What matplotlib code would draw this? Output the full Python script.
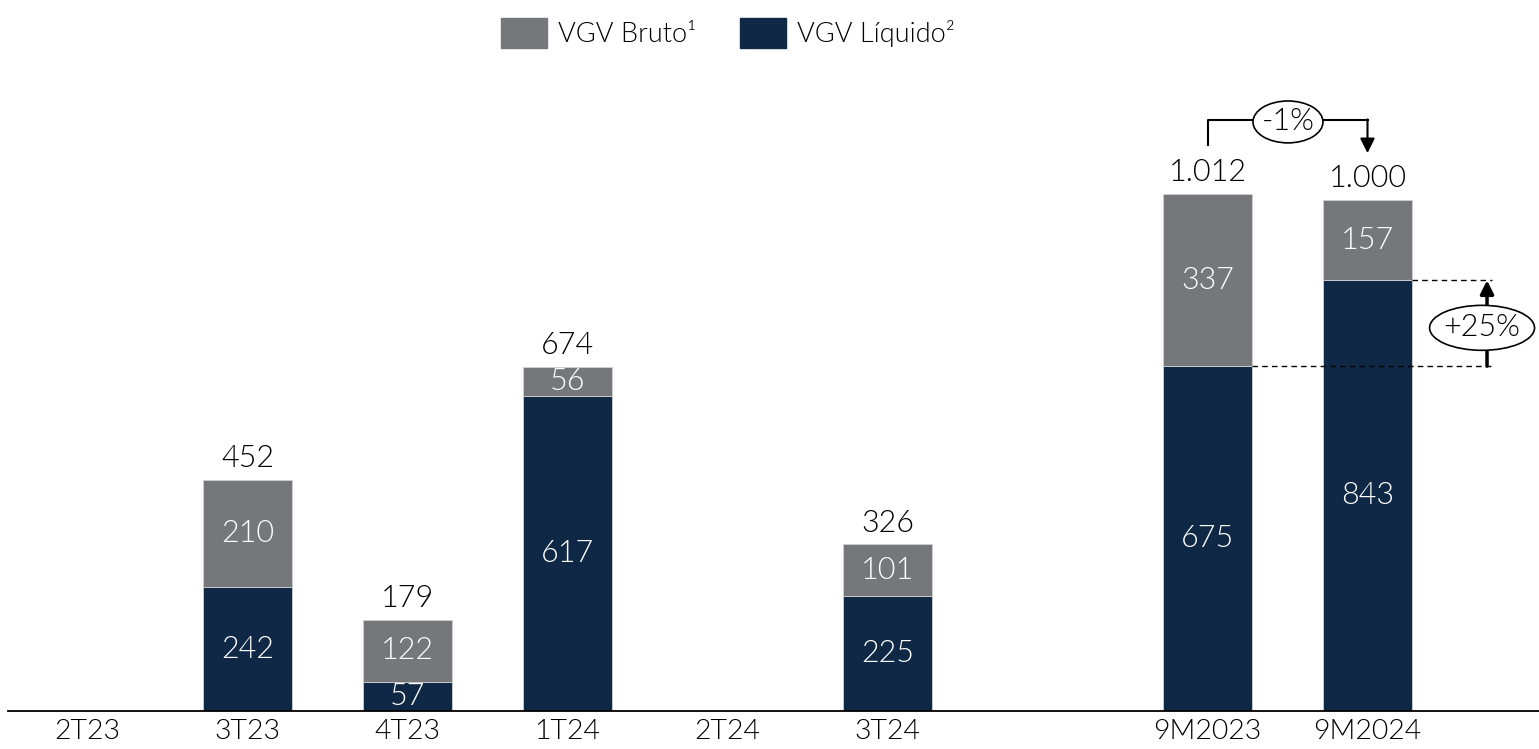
import numpy as np
import matplotlib
matplotlib.use('Agg')
import matplotlib.pyplot as plt
from matplotlib.patches import Ellipse, Patch

plt.rcParams['font.family'] = ['Lato', 'DejaVu Sans']
plt.rcParams['font.weight'] = 300

# data (R$ milhões)
categories = ['2T23', '3T23', '4T23', '1T24', '2T24', '3T24', '9M2023', '9M2024']
positions = [0, 1, 2, 3, 4, 5, 7, 8]
liquido = [np.nan, 242, 57, 617, np.nan, 225, 675, 843]
bruto_extra = [np.nan, 210, 122, 56, np.nan, 101, 337, 157]
totais = ['', '452', '179', '674', '', '326', '1.012', '1.000']

navy = '#0f2846'
gray = '#76777b'

fig = plt.figure(figsize=(15.39, 7.49), dpi=100)
ax = fig.add_axes([0, 0.0507, 1, 0.9493])

width = 0.556
liq = np.nan_to_num(np.array(liquido, dtype=float))
ext = np.nan_to_num(np.array(bruto_extra, dtype=float))
ax.bar(positions, liq, width, color=navy, edgecolor='#d0d0d0', linewidth=0.6)
ax.bar(positions, ext, width, bottom=liq, color=gray, edgecolor='#d0d0d0', linewidth=0.6)

fs = 22
for x, l, e, t in zip(positions, liquido, bruto_extra, totais):
    if np.isnan(l):
        continue
    ax.text(x, l / 2, f'{l:.0f}', ha='center', va='center', color='white', fontsize=fs)
    ax.text(x, l + e / 2, f'{e:.0f}', ha='center', va='center', color='white', fontsize=fs)
    ax.annotate(t, (x, l + e), xytext=(0, 5), textcoords='offset points',
                ha='center', va='bottom', fontsize=fs, color='black')

ax.set_xlim(-87.5 / 160, (1539 - 87.5) / 160)
ax.set_ylim(0, 711 / 0.5109)
ax.set_xticks(positions)
ax.set_xticklabels(categories, fontsize=20.5)
ax.tick_params(axis='x', length=0, pad=6)
ax.set_yticks([])
for s in ['top', 'right', 'left']:
    ax.spines[s].set_visible(False)
ax.spines['bottom'].set_bounds(-0.5, 9.1)
ax.spines['bottom'].set_linewidth(1.3)

# -1% bracket
ax.plot([7, 7, 8], [1108, 1157, 1157], color='black', lw=1.5, zorder=3)
ax.annotate('', xy=(8, 1092), xytext=(8, 1158),
            arrowprops=dict(arrowstyle='-|>', color='black', lw=1.5, mutation_scale=22, shrinkA=0, shrinkB=0), zorder=3)
ax.add_patch(Ellipse((7.503, 1153), 0.4375, 82, facecolor='white', edgecolor='black', lw=1.2, zorder=4))
ax.text(7.503, 1153, '-1%', ha='center', va='center', fontsize=fs, zorder=5)

# +25% comparison
ax.plot([7.28, 8.78], [675, 675], color='black', lw=1, ls=(0, (4, 3)), zorder=3)
ax.plot([8.28, 8.78], [843, 843], color='black', lw=1, ls=(0, (4, 3)), zorder=3)
ax.annotate('', xy=(8.747, 843), xytext=(8.747, 675),
            arrowprops=dict(arrowstyle='-|>', color='black', lw=2.5, mutation_scale=20, shrinkA=0, shrinkB=0), zorder=3)
ax.add_patch(Ellipse((8.716, 750), 0.656, 88, facecolor='white', edgecolor='black', lw=1.2, zorder=4))
ax.text(8.716, 750, '+25%', ha='center', va='center', fontsize=fs, zorder=5)

handles = [Patch(color=gray, label='VGV Bruto¹'), Patch(color=navy, label='VGV Líquido²')]
fig.legend(handles=handles, loc='upper center', bbox_to_anchor=(0.473, 1.008), ncol=2, frameon=False,
           fontsize=19.5, handlelength=1.7, handleheight=1.3, columnspacing=1.6, handletextpad=0.4)

fig.savefig('out.png', dpi=100)
